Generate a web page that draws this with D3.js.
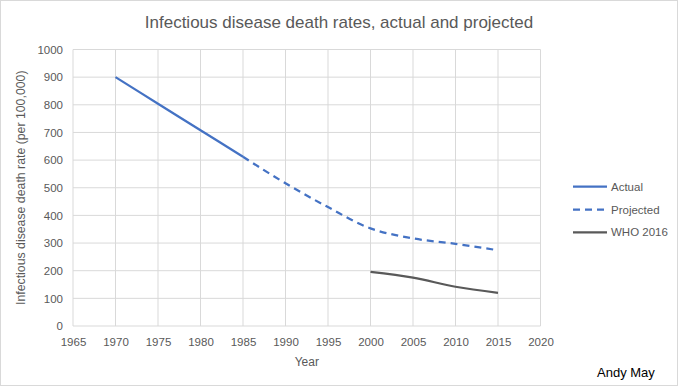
<!DOCTYPE html>
<html><head><meta charset="utf-8">
<script src="https://cdn.jsdelivr.net/npm/d3@7"></script>
<style>body{margin:0;background:#fff}svg{display:block}text{font-family:"Liberation Sans",Arial,sans-serif}</style>
</head><body>
<script>
const actualYears = [1970, 1975, 1980, 1985];
const actualValues = [900, 804, 708, 612];
const projectedYears = [1985, 1990, 1995, 2000, 2005, 2010, 2015];
const projectedValues = [612, 516, 430, 353, 317, 297, 274];
const whoYears = [2000, 2005, 2010, 2015];
const whoValues = [196, 175, 142, 120];
const xTicks = [1965, 1970, 1975, 1980, 1985, 1990, 1995, 2000, 2005, 2010, 2015, 2020];
const yTicks = [0, 100, 200, 300, 400, 500, 600, 700, 800, 900, 1000];
const seriesNames = ["Actual", "Projected", "WHO 2016"];

const W = 678, H = 390;
const svg = d3.select("body").append("svg").attr("width", W).attr("height", H);
svg.append("rect").attr("x", 0.5).attr("y", 0.5).attr("width", 677).attr("height", 385)
  .attr("fill", "#fff").attr("stroke", "#d9d9d9");

const x = d3.scaleLinear().domain([1965, 2020]).range([73, 540.5]);
const y = d3.scaleLinear().domain([0, 1000]).range([326, 49.5]);

const grid = svg.append("g");
grid.selectAll(".vg").data(xTicks).join("line")
  .attr("x1", d => x(d)).attr("x2", d => x(d)).attr("y1", y(1000)).attr("y2", y(0))
  .attr("stroke", "#d9d9d9").attr("stroke-width", 1);
grid.selectAll(".hg").data(yTicks).join("line")
  .attr("x1", x(1965)).attr("x2", x(2020)).attr("y1", d => y(d)).attr("y2", d => y(d))
  .attr("stroke", "#d9d9d9").attr("stroke-width", 1);

const xAxis = svg.append("g").attr("transform", `translate(0,${y(0)})`)
  .call(d3.axisBottom(x).tickValues(xTicks).tickFormat(d3.format("d")).tickSize(0).tickPadding(12));
const yAxis = svg.append("g").attr("transform", `translate(${x(1965)},0)`)
  .call(d3.axisLeft(y).tickValues(yTicks).tickFormat(d3.format("d")).tickSize(0).tickPadding(10));
[xAxis, yAxis].forEach(a => {
  a.select(".domain").remove();
  a.selectAll("text").attr("fill", "#595959").style("font-size", "11.5px").style("font-family", '"Liberation Sans",Arial,sans-serif');
});

const line = d3.line().x(d => x(d[0])).y(d => y(d[1])).curve(d3.curveCatmullRom.alpha(0.5));
const zip = (a, b) => a.map((v, i) => [v, b[i]]);

svg.append("path").datum(zip(projectedYears, projectedValues)).attr("d", line)
  .attr("fill", "none").attr("stroke", "#4472c4").attr("stroke-width", 2.25)
  .attr("stroke-dasharray", "7,5");
svg.append("path").datum(zip(actualYears, actualValues)).attr("d", line)
  .attr("fill", "none").attr("stroke", "#4472c4").attr("stroke-width", 2.25);
svg.append("path").datum(zip(whoYears, whoValues)).attr("d", line)
  .attr("fill", "none").attr("stroke", "#595959").attr("stroke-width", 2.25);

svg.append("text").attr("x", 339).attr("y", 28).attr("text-anchor", "middle")
  .attr("fill", "#595959").style("font-size", "17px")
  .text("Infectious disease death rates, actual and projected");

svg.append("text").attr("transform", `translate(25,${(y(0) + y(1000)) / 2}) rotate(-90)`)
  .attr("text-anchor", "middle").attr("fill", "#595959").style("font-size", "12.3px")
  .text("Infectious disease death rate (per 100,000)");
svg.append("text").attr("x", (x(1965) + x(2020)) / 2).attr("y", 366).attr("text-anchor", "middle")
  .attr("fill", "#595959").style("font-size", "12px").text("Year");

const legendStyles = [
  { color: "#4472c4", dash: null },
  { color: "#4472c4", dash: "7,5" },
  { color: "#595959", dash: null }
];
const lg = svg.append("g");
seriesNames.forEach((name, i) => {
  const ly = 186.7 + i * 22.8;
  lg.append("line").attr("x1", 573).attr("x2", 607).attr("y1", ly).attr("y2", ly)
    .attr("stroke", legendStyles[i].color).attr("stroke-width", 2.25)
    .attr("stroke-dasharray", legendStyles[i].dash);
  lg.append("text").attr("x", 611).attr("y", ly + 4).attr("fill", "#595959")
    .style("font-size", "11.5px").text(name);
});

svg.append("text").attr("x", 597).attr("y", 377).attr("fill", "#000")
  .style("font-size", "13px").text("Andy May");
</script>
</body></html>
